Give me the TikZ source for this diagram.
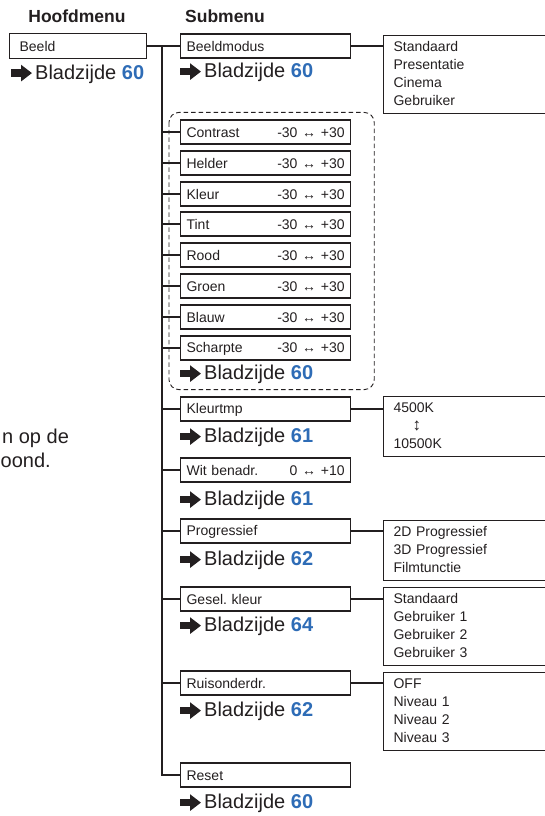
\documentclass[tikz,border=0pt]{standalone}
\usepackage{fontspec}
\setmainfont{Liberation Sans}
\usetikzlibrary{arrows.meta, positioning}
\definecolor{inkgray}{RGB}{35,31,32}
\definecolor{pageblue}{RGB}{46,108,182}
\frenchspacing

\begin{document}
\begin{tikzpicture}[
    x=1pt, y=-1pt,
    every node/.style={text=inkgray},
    line/.style={line width=1.3pt, draw=inkgray},
    head/.style={font=\fontsize{17.5}{20}\selectfont\bfseries, anchor=base},
    menubox/.style={draw=inkgray, line width=1.2pt, rectangle, anchor=west, minimum height=24pt, text width=158pt, align=left, inner xsep=6pt, inner ysep=0pt, font=\fontsize{14}{18}\selectfont, execute at begin node={\rule[-0.5pt]{0pt}{12.4pt}}},
    mainbox/.style={menubox, text width=117pt, inner xsep=10pt, minimum height=25pt},
    optbox/.style={draw=inkgray, line width=1.2pt, rectangle, anchor=north west, text width=190pt, align=left, inner xsep=10pt, inner ysep=3pt, font=\fontsize{14}{18}\selectfont, execute at begin node=\strut, execute at end node=\strut},
    page/.style={font=\fontsize{20}{24}\selectfont, inner sep=0pt},
    pagearrow/.style={line width=7.5pt, draw=inkgray, -{Triangle[length=11pt, width=16pt]}},
    groupbox/.style={draw=inkgray, line width=0.9pt, dash pattern=on 4.5pt off 3pt, rounded corners=10pt}
    ]

    \path[use as bounding box] (0,0) rectangle (545,816);
    \clip (0,0) rectangle (545,816);

    % --- Titels ---
    \node (hoofd) [head] at (77,23) {Hoofdmenu};
    \node (sub) [head] at (225,23) {Submenu};

    % --- Hoofdmenu ---
    \node (beeld) [mainbox] at (9,46) {Beeld};
    \node (pgbeeld) [page, below=20pt of beeld.south west, anchor=base west, xshift=26pt] {Bladzijde \textbf{\textcolor{pageblue}{60}}};

    % --- Tekst van de vorige kolom ---
    \node (resta) [page, anchor=base west] at (2,443) {n op de};
    \node (restb) [page, anchor=base west] at (0.5,467) {oond.};

    % --- Submenu ---
    \node (beeldmodus) [menubox] at (180,46) {Beeldmodus};
    \node (pgmodus) [page, below=19pt of beeldmodus.south west, anchor=base west, xshift=24pt] {Bladzijde \textbf{\textcolor{pageblue}{60}}};

    \node (contrast) [menubox] at (180,132) {Contrast\hfill-30 ↔ +30};
    \node (helder) [menubox] at (180,163) {Helder\hfill-30 ↔ +30};
    \node (kleur) [menubox] at (180,194) {Kleur\hfill-30 ↔ +30};
    \node (tint) [menubox] at (180,224) {Tint\hfill-30 ↔ +30};
    \node (rood) [menubox] at (180,255) {Rood\hfill-30 ↔ +30};
    \node (groen) [menubox] at (180,286) {Groen\hfill-30 ↔ +30};
    \node (blauw) [menubox] at (180,317) {Blauw\hfill-30 ↔ +30};
    \node (scharpte) [menubox] at (180,348) {Scharpte\hfill-30 ↔ +30};
    \node (pgbeeldinst) [page, below=19pt of scharpte.south west, anchor=base west, xshift=24pt] {Bladzijde \textbf{\textcolor{pageblue}{60}}};

    \node (kleurtmp) [menubox] at (180,409) {Kleurtmp};
    \node (pgkleurtmp) [page, below=21pt of kleurtmp.south west, anchor=base west, xshift=24pt] {Bladzijde \textbf{\textcolor{pageblue}{61}}};

    \node (wit) [menubox] at (180,470) {Wit benadr.\hfill0 ↔ +10};
    \node (pgwit) [page, below=23pt of wit.south west, anchor=base west, xshift=24pt] {Bladzijde \textbf{\textcolor{pageblue}{61}}};

    \node (progressief) [menubox] at (180,531) {Progressief};
    \node (pgprog) [page, below=22pt of progressief.south west, anchor=base west, xshift=24pt] {Bladzijde \textbf{\textcolor{pageblue}{62}}};

    \node (gesel) [menubox] at (180,599) {Gesel. kleur};
    \node (pggesel) [page, below=20pt of gesel.south west, anchor=base west, xshift=24pt] {Bladzijde \textbf{\textcolor{pageblue}{64}}};

    \node (ruis) [menubox] at (180,683) {Ruisonderdr.};
    \node (pgruis) [page, below=21pt of ruis.south west, anchor=base west, xshift=24pt] {Bladzijde \textbf{\textcolor{pageblue}{62}}};

    \node (reset) [menubox] at (180,775) {Reset};
    \node (pgreset) [page, below=21pt of reset.south west, anchor=base west, xshift=24pt] {Bladzijde \textbf{\textcolor{pageblue}{60}}};

    % --- Keuzes ---
    \node (optmodus) [optbox] at (383,35) {Standaard\\Presentatie\\Cinema\\Gebruiker};
    \node (optkleurtmp) [optbox] at (383,396) {4500K\\\hspace*{19pt}{\fontsize{17}{18}\selectfont\bfseries ↕}\\10500K};
    \node (optprog) [optbox] at (383,520) {2D Progressief\\3D Progressief\\Filmtunctie};
    \node (optgesel) [optbox] at (383,587) {Standaard\\Gebruiker 1\\Gebruiker 2\\Gebruiker 3};
    \node (optruis) [optbox] at (383,672) {OFF\\Niveau 1\\Niveau 2\\Niveau 3};

    % --- Kader beeldinstellingen ---
    \draw[groupbox] ([shift={(-11,-7)}]contrast.north west) rectangle ([shift={(23,29)}]scharpte.south east);

    % --- Verbindingen ---
    \coordinate (split) at (162,46);
    \draw[line] (beeld.east) -- (beeldmodus.west);
    \draw[line] (split) |- (reset.west);
    \draw[line] (split |- contrast.west) -- (contrast.west);
    \draw[line] (split |- helder.west) -- (helder.west);
    \draw[line] (split |- kleur.west) -- (kleur.west);
    \draw[line] (split |- tint.west) -- (tint.west);
    \draw[line] (split |- rood.west) -- (rood.west);
    \draw[line] (split |- groen.west) -- (groen.west);
    \draw[line] (split |- blauw.west) -- (blauw.west);
    \draw[line] (split |- scharpte.west) -- (scharpte.west);
    \draw[line] (split |- kleurtmp.west) -- (kleurtmp.west);
    \draw[line] (split |- wit.west) -- (wit.west);
    \draw[line] (split |- progressief.west) -- (progressief.west);
    \draw[line] (split |- gesel.west) -- (gesel.west);
    \draw[line] (split |- ruis.west) -- (ruis.west);

    \draw[line] (beeldmodus.east) -- (beeldmodus.east -| optmodus.west);
    \draw[line] (kleurtmp.east) -- (kleurtmp.east -| optkleurtmp.west);
    \draw[line] (progressief.east) -- (progressief.east -| optprog.west);
    \draw[line] (gesel.east) -- (gesel.east -| optgesel.west);
    \draw[line] (ruis.east) -- (ruis.east -| optruis.west);

    % --- Pijlen voor de paginaverwijzingen ---
    \draw[pagearrow] ([shift={(-24,-6)}]pgbeeld.base west) -- ([shift={(-3,-6)}]pgbeeld.base west);
    \draw[pagearrow] ([shift={(-24,-6)}]pgmodus.base west) -- ([shift={(-3,-6)}]pgmodus.base west);
    \draw[pagearrow] ([shift={(-24,-6)}]pgbeeldinst.base west) -- ([shift={(-3,-6)}]pgbeeldinst.base west);
    \draw[pagearrow] ([shift={(-24,-6)}]pgkleurtmp.base west) -- ([shift={(-3,-6)}]pgkleurtmp.base west);
    \draw[pagearrow] ([shift={(-24,-6)}]pgwit.base west) -- ([shift={(-3,-6)}]pgwit.base west);
    \draw[pagearrow] ([shift={(-24,-6)}]pgprog.base west) -- ([shift={(-3,-6)}]pgprog.base west);
    \draw[pagearrow] ([shift={(-24,-6)}]pggesel.base west) -- ([shift={(-3,-6)}]pggesel.base west);
    \draw[pagearrow] ([shift={(-24,-6)}]pgruis.base west) -- ([shift={(-3,-6)}]pgruis.base west);
    \draw[pagearrow] ([shift={(-24,-6)}]pgreset.base west) -- ([shift={(-3,-6)}]pgreset.base west);

\end{tikzpicture}
\end{document}
